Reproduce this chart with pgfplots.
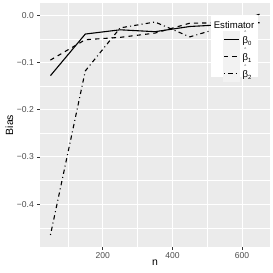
\documentclass[border=0pt]{standalone}
\usepackage{pgfplots}
\pgfplotsset{compat=1.18}
\usepackage{fontspec}
\setmainfont{Liberation Sans}
\definecolor{panel}{HTML}{EBEBEB}
\definecolor{tickc}{HTML}{4D4D4D}
\definecolor{tickm}{HTML}{333333}
\definecolor{keybg}{HTML}{F2F2F2}
\newcommand{\hb}[1]{\makebox[0pt][l]{\makebox[5.4pt][c]{\raisebox{8.2pt}{\fontsize{6}{6}\selectfont ˆ}}}β\raisebox{-2pt}{\fontsize{6}{6}\selectfont #1}}
\begin{document}
\begin{tikzpicture}
\begin{axis}[
  scale only axis, width=230bp, height=244bp,
  xmin=20, xmax=680, ymin=-0.4905, ymax=0.0257,
  axis background/.style={fill=panel},
  axis line style={draw=none},
  xtick={200,400,600}, xticklabels={200,400,600},
  ytick={-0.4,-0.3,-0.2,-0.1,0}, yticklabels={−0.4,−0.3,−0.2,−0.1,0.0},
  minor xtick={100,300,500}, minor ytick={-0.45,-0.35,-0.25,-0.15,-0.05},
  grid=both,
  major grid style={white, line width=1pt},
  minor grid style={white, line width=0.5pt},
  tick align=outside, major tick length=2.6pt, minor tick length=0pt,
  xtick pos=bottom, ytick pos=left,
  tick style={tickm, line width=0.5pt},
  ticklabel style={font=\fontsize{8.6}{10}\selectfont, text=tickc},
  xticklabel style={yshift=1pt},
  xlabel={n}, ylabel={Bias},
  label style={font=\fontsize{10.5}{12}\selectfont},
  xlabel style={yshift=5pt},
  ylabel style={yshift=-3pt},
  legend style={at={(0.795,0.885)}, anchor=north west, fill=none, draw=none,
    inner sep=0pt, row sep=0pt, font=\fontsize{9.6}{10}\selectfont,
    nodes={inner xsep=2.5pt, inner ysep=1pt, text height=9.5pt, text depth=3.5pt, anchor=base west}},
  legend cell align=left,
  legend image code/.code={
    \fill[keybg, solid] (0pt,-4pt) rectangle (16pt,12pt);
    \draw (0.5pt,4pt) -- (15.5pt,4pt);
  },
]
\addplot[black, line width=1.1pt] coordinates {
 (50,-0.128) (150,-0.040) (250,-0.031) (350,-0.035) (450,-0.024) (550,-0.020) (650,-0.016)};
\addplot[black, line width=1.1pt, dash pattern=on 4.2pt off 4.2pt] coordinates {
 (50,-0.095) (150,-0.052) (250,-0.047) (350,-0.038) (450,-0.017) (550,-0.016) (650,-0.018)};
\addplot[black, line width=1.1pt, dash pattern=on 1pt off 3.2pt on 4.3pt off 3.2pt] coordinates {
 (50,-0.465) (150,-0.118) (250,-0.027) (350,-0.0145) (450,-0.046) (550,-0.024) (650,0.002)};
\fill[white] (rel axis cs:0.743,0.697) rectangle (rel axis cs:0.950,0.951);
\node[anchor=base west, inner sep=0pt, font=\fontsize{9.6}{11}\selectfont] at (rel axis cs:0.755,0.895) {Estimator};
\legend{\hb{0},\hb{1},\hb{2}}
\end{axis}
\pgfresetboundingbox
\path (current axis.south west)+(-40bp,-26bp) coordinate (bl);
\path (current axis.north east)+(3bp,3bp) coordinate (tr);
\useasboundingbox (bl) rectangle (tr);
\end{tikzpicture}
\end{document}
